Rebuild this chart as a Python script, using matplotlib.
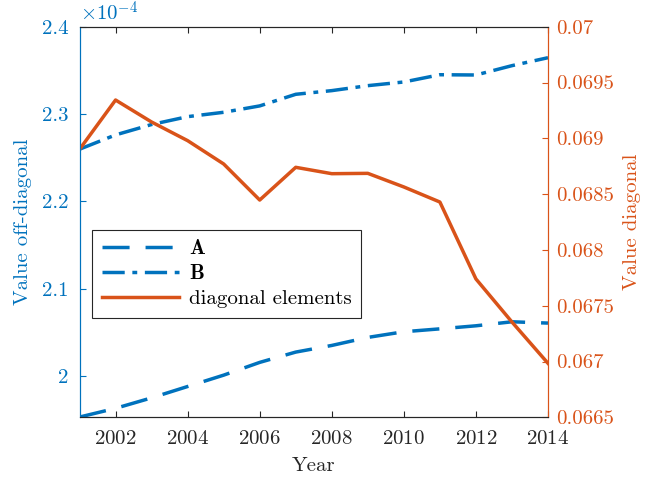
import matplotlib
matplotlib.use("Agg")
import matplotlib.pyplot as plt
from matplotlib.ticker import FuncFormatter

plt.rcParams['font.family'] = 'serif'
plt.rcParams['font.serif'] = ['cmr10']
plt.rcParams['mathtext.fontset'] = 'cm'
plt.rcParams['axes.unicode_minus'] = False
plt.rcParams['axes.formatter.use_mathtext'] = True

# datos
years = [2001, 2002, 2003, 2004, 2005, 2006, 2007, 2008, 2009, 2010, 2011, 2012, 2013, 2014]
serie_a = [1.953e-4, 1.963e-4, 1.975e-4, 1.988e-4, 2.001e-4, 2.0156e-4, 2.0274e-4, 2.035e-4,
           2.0442e-4, 2.0507e-4, 2.054e-4, 2.0575e-4, 2.0621e-4, 2.0606e-4]
serie_b = [2.2597e-4, 2.2761e-4, 2.288e-4, 2.297e-4, 2.302e-4, 2.3093e-4, 2.3226e-4, 2.3268e-4,
           2.3325e-4, 2.3367e-4, 2.345e-4, 2.3447e-4, 2.3554e-4, 2.3645e-4]
diagonal = [0.068901, 0.069343, 0.069146, 0.068979, 0.06877, 0.068447, 0.06874, 0.068683,
            0.068686, 0.068564, 0.068429, 0.06774, 0.067354, 0.066984]

x_ticks = [2002, 2004, 2006, 2008, 2010, 2012, 2014]
left_ticks = [2.0e-4, 2.1e-4, 2.2e-4, 2.3e-4, 2.4e-4]
right_ticks = [0.0665, 0.067, 0.0675, 0.068, 0.0685, 0.069, 0.0695, 0.07]

azul = '#0072BD'
naranja = '#D95319'
gris = '#262626'
fs = 15

fig = plt.figure(figsize=(6.45, 4.82), dpi=100)
ax1 = fig.add_axes([0.1233, 0.1342, 0.7263, 0.8104])
ax2 = ax1.twinx()

l_a, = ax1.plot(years, serie_a, color=azul, lw=2.5, dashes=(7.8, 4.6), label=r'$\mathbf{A}$')
l_b, = ax1.plot(years, serie_b, color=azul, lw=2.5, dashes=(6.4, 2.2, 1.4, 2.2), label=r'$\mathbf{B}$')
l_d, = ax2.plot(years, diagonal, color=naranja, lw=2.5, label='diagonal elements')

ax1.set_xlim(2001, 2014)
ax1.set_xticks(x_ticks)
ax1.set_ylim(1.9527e-4, 2.4e-4)
ax1.set_yticks(left_ticks)
ax1.yaxis.set_major_formatter(FuncFormatter(lambda v, p: '%g' % round(v * 1e4, 4)))
ax2.set_ylim(0.0665, 0.07)
ax2.set_yticks(right_ticks)
ax2.yaxis.set_major_formatter(FuncFormatter(lambda v, p: '%g' % round(v, 5)))

ax1.tick_params(axis='x', direction='in', top=True, length=4, colors=gris, labelsize=fs, pad=9)
ax1.tick_params(axis='y', direction='in', length=4, colors=azul, labelsize=fs, pad=8)
ax2.tick_params(axis='y', direction='in', length=4, colors=naranja, labelsize=fs, pad=6)

for a in (ax1, ax2):
    a.spines['top'].set_color(gris)
    a.spines['bottom'].set_color(gris)
    a.spines['left'].set_color(azul)
    a.spines['right'].set_color(naranja)

ax1.set_xlabel('Year', fontsize=fs, color=gris, labelpad=7)
ax1.set_ylabel('Value off-diagonal', fontsize=fs, color=azul, labelpad=7)
ax2.set_ylabel('Value diagonal', fontsize=fs, color=naranja, labelpad=6)
ax1.text(0.0, 1.005, r'$\times10^{-4}$', transform=ax1.transAxes, ha='left', va='bottom',
         fontsize=fs, color=azul)

leg = ax2.legend(handles=[l_a, l_b, l_d], loc='upper left', bbox_to_anchor=(0.027, 0.48),
                 fontsize=fs, handlelength=3.7, handletextpad=0.5, fancybox=False, framealpha=1,
                 borderaxespad=0, labelspacing=0.3, borderpad=0.45)
leg.get_frame().set_edgecolor(gris)
leg.get_frame().set_linewidth(0.8)

fig.savefig('out.png', dpi=100)
